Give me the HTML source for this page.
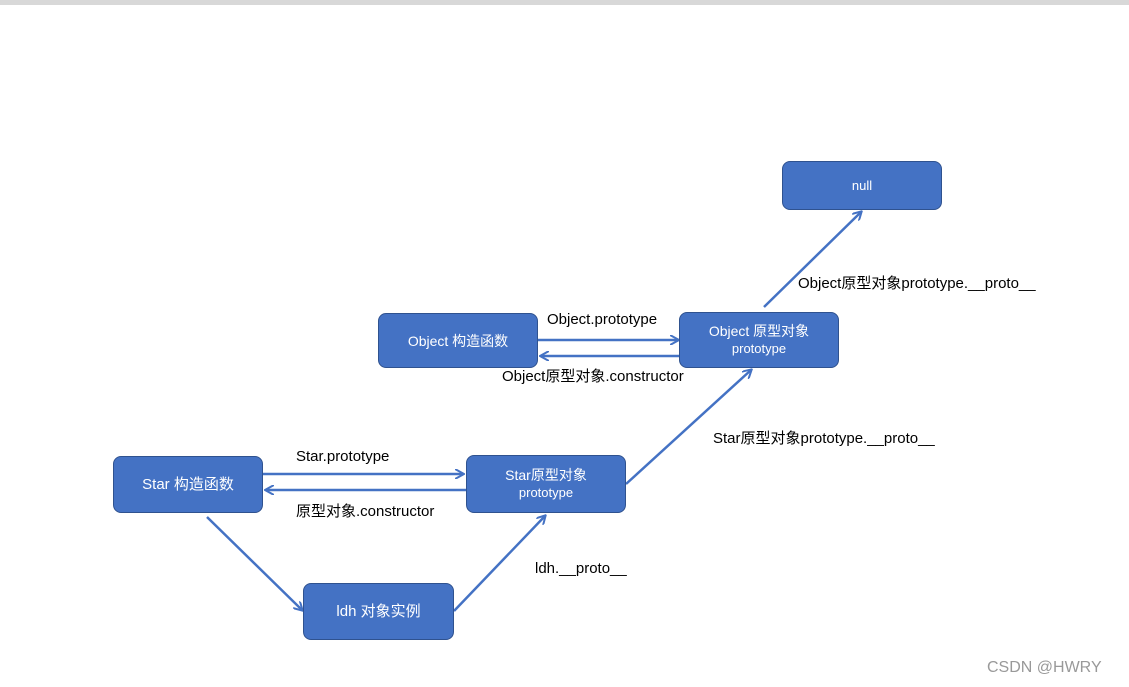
<!DOCTYPE html>
<html><head><meta charset="utf-8"><style>
body{margin:0;width:1129px;height:687px;background:#fff;position:relative;overflow:hidden;font-family:"Liberation Sans","Noto Sans CJK SC",sans-serif}
.b{position:absolute;background:#4472C4;border:1.5px solid #2F528F;border-radius:8px;color:#fff;display:flex;flex-direction:column;align-items:center;justify-content:center;text-align:center;box-sizing:border-box;line-height:18px}
.t{position:absolute;color:#000;font-size:15px;white-space:nowrap}
</style></head><body>
<div style="position:absolute;left:0;top:0;width:1129px;height:5px;background:#d8d8d8"></div>
<svg width="1129" height="687" style="position:absolute;left:0;top:0">
<defs><marker id="a" markerWidth="10" markerHeight="10" refX="8" refY="5" orient="auto" markerUnits="userSpaceOnUse"><path d="M0,0 L9,5 L0,10" fill="none" stroke="#4472C4" stroke-width="2"/></marker></defs>
<g stroke="#4472C4" stroke-width="2.5" fill="none" marker-end="url(#a)">
<line x1="538" y1="340" x2="678" y2="340"/>
<line x1="679" y1="356" x2="541" y2="356"/>
<line x1="263" y1="474" x2="463" y2="474"/>
<line x1="466" y1="490" x2="266" y2="490"/>
<line x1="207" y1="517" x2="302" y2="610"/>
<line x1="454" y1="611" x2="545" y2="516"/>
<line x1="626" y1="484" x2="751" y2="370"/>
<line x1="764" y1="307" x2="861" y2="212"/>
</g></svg>
<div class="b" style="left:782px;top:161px;width:160px;height:49px;font-size:13px">null</div>
<div class="b" style="left:378px;top:313px;width:160px;height:55px;font-size:14px">Object 构造函数</div>
<div class="b" style="left:679px;top:312px;width:160px;height:56px;font-size:14px"><span>Object 原型对象</span><span style="font-size:13px">prototype</span></div>
<div class="b" style="left:113px;top:456px;width:150px;height:57px;font-size:15px">Star 构造函数</div>
<div class="b" style="left:466px;top:455px;width:160px;height:58px;font-size:14px"><span>Star原型对象</span><span style="font-size:13px">prototype</span></div>
<div class="b" style="left:303px;top:583px;width:151px;height:57px;font-size:15px">ldh 对象实例</div>
<div class="t" style="left:547px;top:311px">Object.prototype</div>
<div class="t" style="left:502px;top:365px">Object原型对象.constructor</div>
<div class="t" style="left:798px;top:272px">Object原型对象prototype.__proto__</div>
<div class="t" style="left:713px;top:427px">Star原型对象prototype.__proto__</div>
<div class="t" style="left:296px;top:448px">Star.prototype</div>
<div class="t" style="left:296px;top:500px">原型对象.constructor</div>
<div class="t" style="left:535px;top:560px">ldh.__proto__</div>
<div class="t" style="left:987px;top:659px;color:#999;font-size:16px">CSDN @HWRY</div>
</body></html>
